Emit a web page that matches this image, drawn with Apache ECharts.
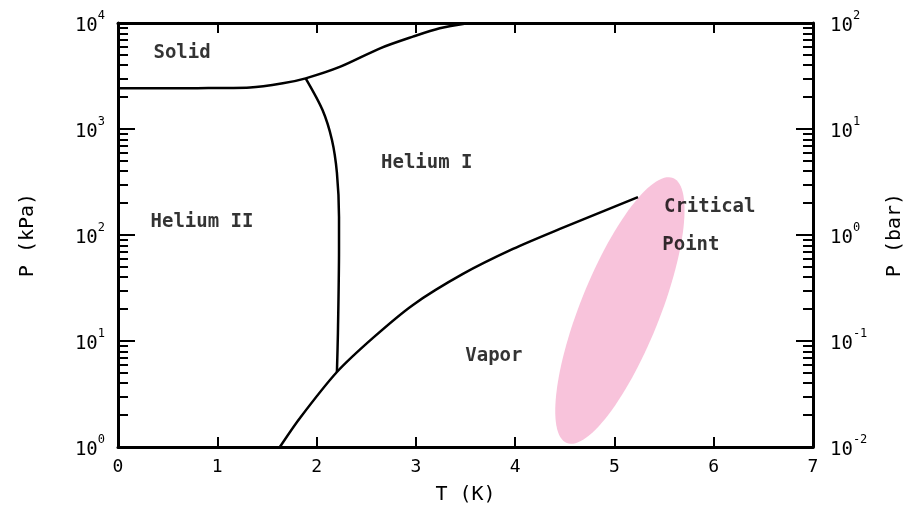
<!DOCTYPE html>
<html><head><meta charset="utf-8">
<script src="https://cdn.jsdelivr.net/npm/echarts@6/dist/echarts.min.js"></script>
<style>html,body{margin:0;padding:0;background:#fff}#c{width:913px;height:518px}</style>
</head><body><div id="c"></div>
<script>
// ---- data ----
const xTickValues = [0, 1, 2, 3, 4, 5, 6, 7];
const meltingT = [0, 0.8, 1.33, 1.66, 1.89, 2.24, 2.64, 2.97, 3.24, 3.52];
const meltingP = [2421, 2430, 2466, 2698, 3006, 3873, 5768, 7430, 8913, 9935];
const lambdaT = [1.89, 2.06, 2.155, 2.205, 2.226, 2.226, 2.215, 2.205];
const lambdaP = [3006, 1510, 787, 385, 148, 72, 11.9, 5.1];
const vaporT = [1.63, 1.833, 2.205, 2.568, 2.971, 3.474, 3.978, 4.451, 5.237];
const vaporP = [1, 1.88, 5.1, 10.7, 21.9, 42.9, 73.8, 114, 228];
const regionNames = ['Solid', 'Helium I', 'Helium II', 'Vapor', 'Critical', 'Point'];
const regionT = [0.645, 3.11, 0.846, 3.786, 5.96, 5.77];
const regionP = [5210, 478, 133, 7.21, 184, 80.5];
// critical point region: ends of the long axis (T, P) and half width in K
const critTop = [5.59, 345];
const critBottom = [4.52, 1.09];
const critHalfWidthK = 0.40;

const FONT = 'DejaVu Sans Mono';
function zip(a, b) { return a.map((v, i) => [v, b[i]]); }
function powLabel(v) {
  const e = Math.round(Math.log10(v));
  return '{base|10}{sup|' + e + '}';
}
const richSup = {
  base: { fontSize: 19, fontFamily: FONT, color: '#000', lineHeight: 26, verticalAlign: 'bottom' },
  sup: { fontSize: 12, fontFamily: FONT, color: '#000', lineHeight: 26, verticalAlign: 'top' }
};

const chart = echarts.init(document.getElementById('c'), null, { renderer: 'canvas' });
const lineStyle = { color: '#000', width: 2.5 };
const tickStyle = { color: '#000', width: 2 };
function yAxisBase(extra) {
  return Object.assign({
    type: 'log', logBase: 10,
    nameLocation: 'middle', nameRotate: 90,
    nameTextStyle: { fontFamily: FONT, fontSize: 20, color: '#000' },
    axisLine: { show: true, onZero: false, lineStyle: { color: '#000', width: 3 } },
    axisTick: { show: true, inside: true, length: 17, lineStyle: tickStyle },
    minorTick: { show: true, splitNumber: 9, length: 10, lineStyle: tickStyle },
    splitLine: { show: false }, minorSplitLine: { show: false }
  }, extra);
}
const option = {
  backgroundColor: '#fff',
  animation: false,
  grid: { left: 118, right: 100, top: 23, bottom: 71, containLabel: false },
  xAxis: [
    {
      type: 'value', min: 0, max: 7, interval: 1, position: 'bottom',
      name: 'T (K)', nameLocation: 'middle', nameGap: 38,
      nameTextStyle: { fontFamily: FONT, fontSize: 20, color: '#000' },
      axisLine: { show: true, onZero: false, lineStyle: { color: '#000', width: 3 } },
      axisTick: { show: true, inside: true, length: 10, lineStyle: tickStyle },
      axisLabel: { fontFamily: FONT, fontSize: 18, color: '#000', margin: 11,
        formatter: v => xTickValues.indexOf(v) >= 0 ? String(v) : '' },
      splitLine: { show: false }
    },
    {
      type: 'value', min: 0, max: 7, interval: 1, position: 'top',
      axisLine: { show: true, onZero: false, lineStyle: { color: '#000', width: 3 } },
      axisTick: { show: true, inside: true, length: 10, lineStyle: tickStyle },
      axisLabel: { show: false },
      splitLine: { show: false }
    }
  ],
  yAxis: [
    yAxisBase({
      min: 1, max: 10000, position: 'left',
      name: 'P (kPa)', nameGap: 80,
      axisLabel: { margin: 13, formatter: powLabel, rich: richSup }
    }),
    yAxisBase({
      min: 0.01, max: 100, position: 'right',
      name: 'P (bar)', nameGap: 72,
      axisLabel: { margin: 17, formatter: powLabel, rich: richSup }
    })
  ],
  series: [
    {
      type: 'custom', xAxisIndex: 0, yAxisIndex: 0, z: 1, silent: true,
      data: [[critTop[0], critTop[1], critBottom[0], critBottom[1], critHalfWidthK]],
      renderItem: function (params, api) {
        const p1 = api.coord([api.value(0), api.value(1)]);
        const p2 = api.coord([api.value(2), api.value(3)]);
        const hw = api.size([api.value(4), 1])[0];
        const cx = (p1[0] + p2[0]) / 2, cy = (p1[1] + p2[1]) / 2;
        const dx = p1[0] - p2[0], dy = p1[1] - p2[1];
        const a = Math.sqrt(dx * dx + dy * dy) / 2;
        const ux = dx / (2 * a), uy = dy / (2 * a);
        const vx = -uy, vy = ux;
        const pts = [];
        for (let k = 0; k < 120; k++) {
          const t = k / 120 * Math.PI * 2;
          const ca = Math.cos(t) * a, sb = Math.sin(t) * hw;
          pts.push([cx + ux * ca + vx * sb, cy + uy * ca + vy * sb]);
        }
        return { type: 'polygon', shape: { points: pts },
          style: { fill: '#f8c3db', stroke: null } };
      }
    },
    { type: 'line', name: 'melting', data: zip(meltingT, meltingP), symbol: 'none',
      smooth: 0.3, lineStyle: lineStyle, z: 3 },
    { type: 'line', name: 'lambda', data: zip(lambdaT, lambdaP), symbol: 'none',
      smooth: 0.3, lineStyle: lineStyle, z: 3 },
    { type: 'line', name: 'vapor', data: zip(vaporT, vaporP), symbol: 'none',
      smooth: 0.3, lineStyle: lineStyle, z: 3 },
    {
      type: 'scatter', z: 4, symbolSize: 0.001, silent: true,
      data: regionNames.map((n, i) => [regionT[i], regionP[i], n]),
      label: { show: true, position: 'inside', formatter: p => p.data[2],
        fontFamily: FONT, fontSize: 19, fontWeight: 'bold', color: '#000' }
    }
  ]
};
chart.setOption(option);
</script>
</body></html>
